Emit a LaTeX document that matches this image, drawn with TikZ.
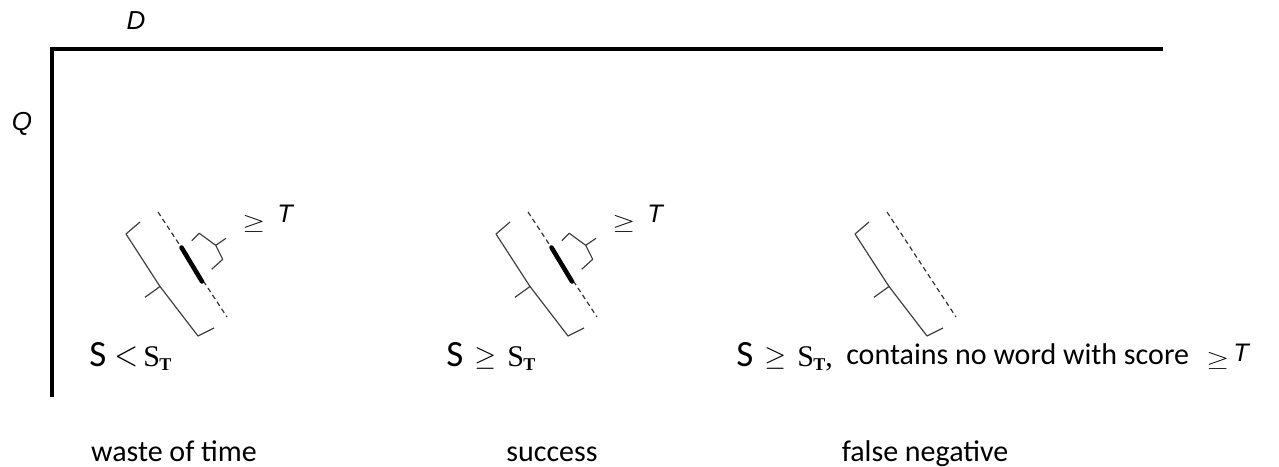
\documentclass[tikz,border=0pt]{standalone}
\usepackage{fontspec}
\setmainfont{Carlito}
\newfontfamily\serifS{Liberation Serif}
\newfontfamily\arialf{Liberation Sans}
\newcommand\bigS{{\fontsize{27.75}{30}\selectfont S}}
\newcommand\subST{{\serifS\fontsize{22.5}{25}\selectfont S}\kern-0.5pt\raisebox{-3.5pt}{\serifS\bfseries\fontsize{13.5}{15}\selectfont T}}
\newcommand\bigGE{\scalebox{2.1}{$\geq$}}
\newcommand\bigLT{\scalebox{2.3}[2.6]{$<$}}
\newcommand\smallGE{\scalebox{2.2}[1.65]{$\geq$}}
\newcommand\itT{{\arialf\itshape\fontsize{19}{20}\selectfont T}}
\begin{document}
\begin{tikzpicture}[x=0.75pt,y=-0.75pt,
  axisline/.style={line width=2.5pt},
  bracel/.style={line width=0.9pt, draw=black!75, line join=round},
  dashl/.style={line width=0.9pt, dash pattern=on 3.6pt off 2.6pt, draw=black!80},
  thickl/.style={line width=3.4pt, line cap=round},
  txt/.style={inner sep=0pt, anchor=base west},
  btxt/.style={inner sep=0pt, anchor=base, font=\fontsize{22.5}{27}\selectfont},
  axlab/.style={inner sep=0pt, font=\arialf\itshape\fontsize{19.5}{21}\selectfont},
  pics/bigbrace/.style={code={
    \draw[bracel] (140,222) -- (126,234) -- (160,286.5) -- (145,297.3)
                  (160,286.5) -- (198,336) -- (214,328);
    \draw[dashl] (158,212) -- (227,317);
  }},
  pics/hitmark/.style={code={
    \draw[thickl] (181.5,247.5) -- (202,281.5);
    \draw[bracel] (191.7,240.7) -- (199.3,233.3) -- (215.7,245.3) -- (226,238.3)
                  (215.7,245.3) -- (222.7,259.3) -- (211.7,269.3);
  }}
]
\useasboundingbox (0,0) rectangle (1279,467);

% axes
\coordinate (O) at (52,49);
\coordinate (Dend) at (1163,49);
\coordinate (Qend) at (52,397);
\draw[axisline] (Dend) -- (O) -- (Qend);
\node[axlab] (D) at (136,21) {D};
\node[axlab] (Q) at (22,124) {Q};

% group 1
\pic (g1) at (0,0) {bigbrace};
\pic (h1) at (0,0) {hitmark};
\node[txt] (ge1) at (242,229) {\smallGE};
\node[txt] (T1) at (277,222) {\itT};

% group 2
\pic (g2) at (370,0) {bigbrace};
\pic (h2) at (370,0) {hitmark};
\node[txt] (ge2) at (612,229) {\smallGE};
\node[txt] (T2) at (647,222) {\itT};

% group 3
\pic (g3) at (729,0) {bigbrace};

% conditions
\node[txt] (c1S) at (89,366) {\bigS};
\node[txt] (c1r) at (114,365) {\bigLT};
\node[txt] (c1T) at (143,366) {\subST};

\node[txt] (c2S) at (446,366) {\bigS};
\node[txt] (c2r) at (474,365) {\bigGE};
\node[txt] (c2T) at (507,366) {\subST};

\node[txt] (c3S) at (736,366) {\bigS};
\node[txt] (c3r) at (764,365) {\bigGE};
\node[txt] (c3T) at (797,366) {\subST{\serifS\fontsize{22.5}{25}\selectfont,}};
\node[txt] (c3x) at (846,364) {\fontsize{22.5}{27}\selectfont contains no word with score};
\node[txt] (ge3) at (1206,366) {\smallGE};
\node[txt] (T3) at (1233,361) {\itT};

% outcomes
\node[btxt] (o1) at (174,461) {waste of time};
\node[btxt] (o2) at (552,461) {success};
\node[btxt] (o3) at (925,461) {false negative};
\end{tikzpicture}
\end{document}
